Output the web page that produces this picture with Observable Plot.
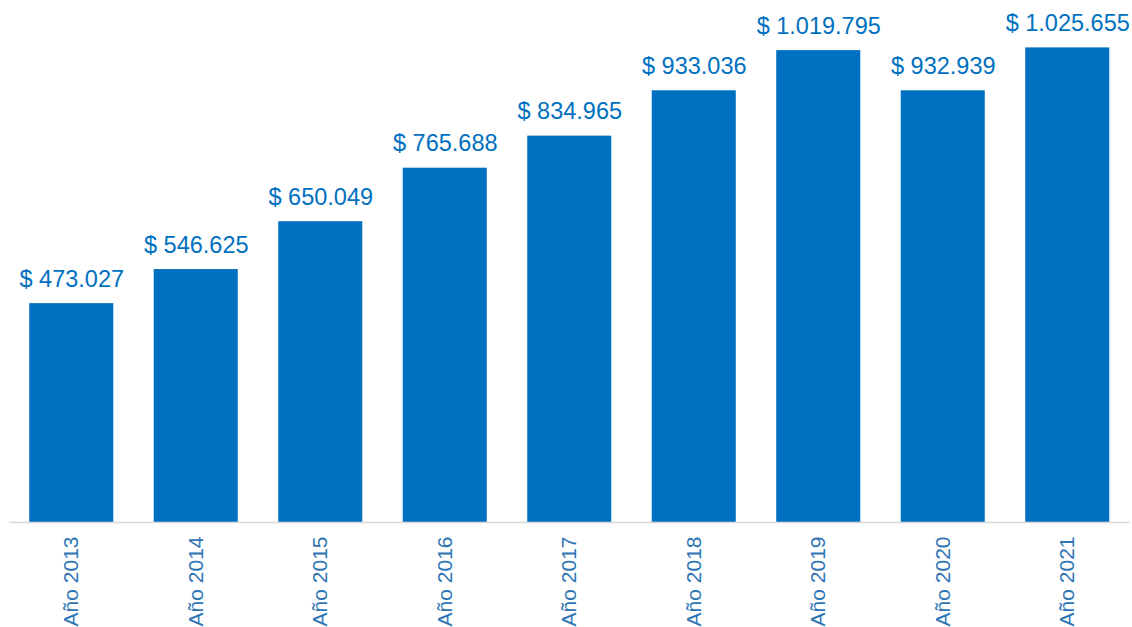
<!DOCTYPE html>
<html>
<head>
<meta charset="utf-8">
<script src="https://cdn.jsdelivr.net/npm/d3@7"></script>
<script src="https://cdn.jsdelivr.net/npm/@observablehq/plot@0.6"></script>
<style>
  html, body { margin: 0; padding: 0; background: #fff; }
  #chart svg { display: block; }
</style>
</head>
<body>
<div id="chart"></div>
<script>
const categories = ["Año 2013", "Año 2014", "Año 2015", "Año 2016", "Año 2017", "Año 2018", "Año 2019", "Año 2020", "Año 2021"];
const values = [473027, 546625, 650049, 765688, 834965, 933036, 1019795, 932939, 1025655];
const valueLabels = ["$ 473.027", "$ 546.625", "$ 650.049", "$ 765.688", "$ 834.965", "$ 933.036", "$ 1.019.795", "$ 932.939", "$ 1.025.655"];

const data = categories.map((c, i) => ({ cat: c, value: values[i], label: valueLabels[i] }));
const blue = "#0070C0";

const chart = Plot.plot({
  width: 1132,
  height: 627,
  marginLeft: 9,
  marginRight: 2.5,
  marginTop: 13,
  marginBottom: 105,
  style: { fontFamily: "'Liberation Sans', Arial, sans-serif", background: "#fff" },
  x: { domain: categories, paddingInner: 0.325, paddingOuter: 0.1625, round: false, label: null },
  y: { domain: [0, 1100000], axis: null },
  marks: [
    Plot.barY(data, { x: "cat", y: "value", fill: blue }),
    Plot.ruleY([0], { stroke: "#d9d9d9", strokeWidth: 1.5 }),
    Plot.text(data, { x: "cat", y: "value", text: "label", fill: blue, fontSize: 23.5, lineAnchor: "bottom", dy: -17 }),
    Plot.axisX({ tickSize: 0, tickPadding: 14, tickRotate: -90, fontSize: 21, fill: "#2E75B6", label: null })
  ]
});
document.getElementById("chart").appendChild(chart);
</script>
</body>
</html>
